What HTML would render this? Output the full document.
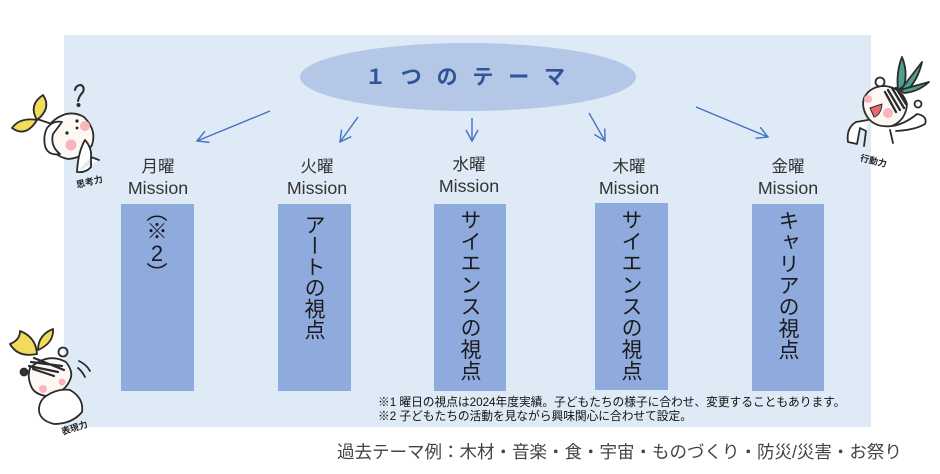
<!DOCTYPE html>
<html lang="ja">
<head>
<meta charset="utf-8">
<style>
html,body{margin:0;padding:0;background:#fff}
#c{position:relative;width:940px;height:474px;overflow:hidden;font-family:"Liberation Sans","Noto Sans CJK JP",sans-serif;color:#222}
#c svg{position:absolute;left:0;top:0}
.box{position:absolute;background:#8faadc;width:73px;height:187px}
.v{position:absolute;writing-mode:vertical-rl;font-family:"Noto Sans CJK JP",sans-serif;font-size:21px;line-height:26px;color:#1a1a1a;white-space:nowrap}
.g{position:absolute;width:26px;text-align:center;font-size:21px;line-height:24px;color:#1a1a1a}
.d{position:absolute;width:100px;text-align:center;font-size:16.5px;line-height:21px;color:#333}
.d b{font-weight:400;font-size:17.8px}
.n{position:absolute;left:378px;font-size:11.75px;letter-spacing:-.05px;line-height:13px;color:#111;white-space:nowrap}
.t{position:absolute;font-size:9px;line-height:10px;color:#222;white-space:nowrap;font-family:"Noto Sans CJK JP",sans-serif;font-weight:700}
</style>
</head>
<body>
<div id="c">
<svg width="940" height="474" viewBox="0 0 940 474">
<defs>
<marker id="a" markerWidth="16" markerHeight="16" refX="12" refY="7" orient="auto" markerUnits="userSpaceOnUse"><path d="M1 1 L12 7 L1 13" fill="none" stroke="#4472c4" stroke-width="1.4"/></marker>
</defs>
<rect x="64" y="35" width="807" height="392" fill="#deeaf6"/>
<ellipse cx="468" cy="77" rx="168" ry="34" fill="#b4c7e7"/>
<g stroke="#4472c4" stroke-width="1.4" fill="none">
<line x1="270" y1="111" x2="197" y2="141" marker-end="url(#a)"/>
<line x1="358" y1="117" x2="340" y2="142" marker-end="url(#a)"/>
<line x1="472" y1="118" x2="472" y2="141" marker-end="url(#a)"/>
<line x1="589" y1="113" x2="605" y2="141" marker-end="url(#a)"/>
<line x1="696" y1="107" x2="768" y2="137" marker-end="url(#a)"/>
</g>
<!-- thinking character -->
<g stroke="#2b2b2b" stroke-width="1.8" stroke-linecap="round" stroke-linejoin="round">
<path d="M37 120 Q28 105 43 95 Q52 108 37 120Z" fill="#f0dc5a"/>
<path d="M37 120 Q20 117 12 128 Q26 138 37 120Z" fill="#f0dc5a"/>
<path d="M37 119 L52 124" fill="none"/>
<path d="M52 122 Q68 108 84 117 Q97 130 92 145 Q84 158 68 159 Q52 156 47 140 Q46 130 52 122Z" fill="#fdf8f4"/>
<path d="M47 128 Q53 120 62 122 L53 134 Q50 146 60 154 Q48 156 45 146 Q43 136 47 128Z" fill="#fff"/>
<path d="M77 172 Q78 152 85 140 Q92 148 91 157 L99 160 M77 172 Q86 173 91 167 L91 157" fill="#fff"/>
<path d="M75 90 Q76 85 81 85 Q85 87 83 92 Q79 96 78 101" fill="none" stroke-width="2"/>
</g>
<circle cx="78.500" cy="105" r="2" fill="#2b2b2b"/>
<circle cx="85" cy="126" r="5" fill="#f9b4bc"/>
<circle cx="71" cy="145" r="5.500" fill="#f9b4bc"/>
<circle cx="67" cy="133" r="1.600" fill="#222"/><circle cx="77" cy="121" r="1.600" fill="#222"/><circle cx="77" cy="128" r="1.400" fill="#222"/>
<!-- expressive character -->
<g stroke="#2b2b2b" stroke-width="1.8" stroke-linecap="round" stroke-linejoin="round">
<path d="M37 354 Q36 337 20 331 Q20 340 10 344 Q18 358 37 354Z" fill="#f0dc5a"/>
<path d="M38 350 Q38 335 53 329 Q54 343 38 350Z" fill="#f0dc5a"/>
<path d="M30 368 Q48 352 66 362 Q74 372 70 380 Q64 394 46 396 Q34 394 31 386 Q27 376 30 368Z" fill="#fdf8f4"/>
<path d="M31 362 L62 366 M34 358 L64 370 M29 366 L58 372 M33 369 L54 376" fill="none" stroke-width="2.200"/>
<circle cx="63" cy="352" r="4.500" fill="none"/>
<circle cx="24" cy="372" r="3.500" fill="#333"/>
<path d="M46 396 Q58 388 70 390 Q84 398 82 412 Q72 424 54 424 Q38 420 39 408 Q40 400 46 396Z" fill="#fff"/>
<path d="M79 361 Q87 365 90 371 M78 368 Q82 371 85 377" fill="none"/>
</g>
<circle cx="43" cy="389" r="4" fill="#f9b4bc"/><circle cx="62" cy="382" r="3.500" fill="#f9b4bc"/>
<!-- active character -->
<g stroke="#2b2b2b" stroke-width="1.800" stroke-linecap="round" stroke-linejoin="round">
<path d="M898 90 Q896 72 902 57 Q908 72 904 86Z" fill="#4f9e8e"/>
<path d="M902 88 L922 62 Q918 80 906 92Z" fill="#4f9e8e"/>
<path d="M900 90 L929 82 Q918 92 904 93Z" fill="#4f9e8e"/>
<circle cx="880" cy="82" r="4.500" fill="none"/>
<path d="M864 98 Q870 86 885 86 Q902 88 907 104 Q906 120 892 126 Q876 128 868 118 Q861 108 864 98Z" fill="#fdf8f4"/>
<path d="M888 90 L900 110 M892 88 L904 108 M885 92 L896 112 M896 88 L906 104" fill="none" stroke-width="2.300"/>
<path d="M868 120 L856 122 Q846 128 848 142 L857 144 L860 128 L866 131 L864 146" fill="#fff"/>
<path d="M892 126 Q905 124 917 114 Q928 116 925 124 Q915 130 896 131 M890 130 L893 143" fill="#fff"/>
<circle cx="918" cy="104" r="3.500" fill="none"/>
<path d="M870 108 L882 104 Q881 115 874 117Z" fill="#e86a70" stroke-width="1"/>
</g>
<circle cx="868" cy="99" r="4" fill="#f9b4bc"/><circle cx="888" cy="113" r="5" fill="#f9b4bc"/>
<text x="365" y="84" font-family="'Noto Sans CJK JP',sans-serif" font-size="21" font-weight="700" fill="#2f5597" textLength="200">１つのテーマ</text>
</svg>

<div class="box" style="left:121px;top:204px"></div>
<div class="box" style="left:278px;top:204px"></div>
<div class="box" style="left:434px;top:204px;width:72px"></div>
<div class="box" style="left:595px;top:203px"></div>
<div class="box" style="left:752px;top:204px;width:72px"></div>

<div class="d" style="left:108px;top:157px">月曜<br><b>Mission</b></div>
<div class="d" style="left:267px;top:157px">火曜<br><b>Mission</b></div>
<div class="d" style="left:419px;top:155px">水曜<br><b>Mission</b></div>
<div class="d" style="left:579px;top:157px">木曜<br><b>Mission</b></div>
<div class="d" style="left:738px;top:157px">金曜<br><b>Mission</b></div>

<div class="v" style="left:144px;top:201px">（</div>
<div class="v" style="left:144px;top:220px">※</div>
<div class="g" style="left:144px;top:242px;font-size:22px">2</div>
<div class="v" style="left:144px;top:262px">）</div>
<div class="v" style="left:302px;top:214px">アートの視点</div>
<div class="v" style="left:458px;top:209px;letter-spacing:.6px">サイエンスの視点</div>
<div class="v" style="left:619px;top:209px;letter-spacing:.6px">サイエンスの視点</div>
<div class="v" style="left:776px;top:210px;letter-spacing:.5px">キャリアの視点</div>

<div class="n" style="top:396px">※1 曜日の視点は2024年度実績。子どもたちの様子に合わせ、変更することもあります。</div>
<div class="n" style="top:410px">※2 子どもたちの活動を見ながら興味関心に合わせて設定。</div>
<div style="position:absolute;left:337px;top:441px;font-size:17.5px;line-height:22px;color:#444;white-space:nowrap">過去テーマ例：木材・音楽・食・宇宙・ものづくり・防災/災害・お祭り</div>

<div class="t" style="left:76px;top:177px;transform:rotate(-13deg)">思考力</div>
<div class="t" style="left:61px;top:423px;transform:rotate(-18deg)">表現力</div>
<div class="t" style="left:860px;top:156px;transform:rotate(14deg)">行動力</div>
</div>
</body>
</html>
